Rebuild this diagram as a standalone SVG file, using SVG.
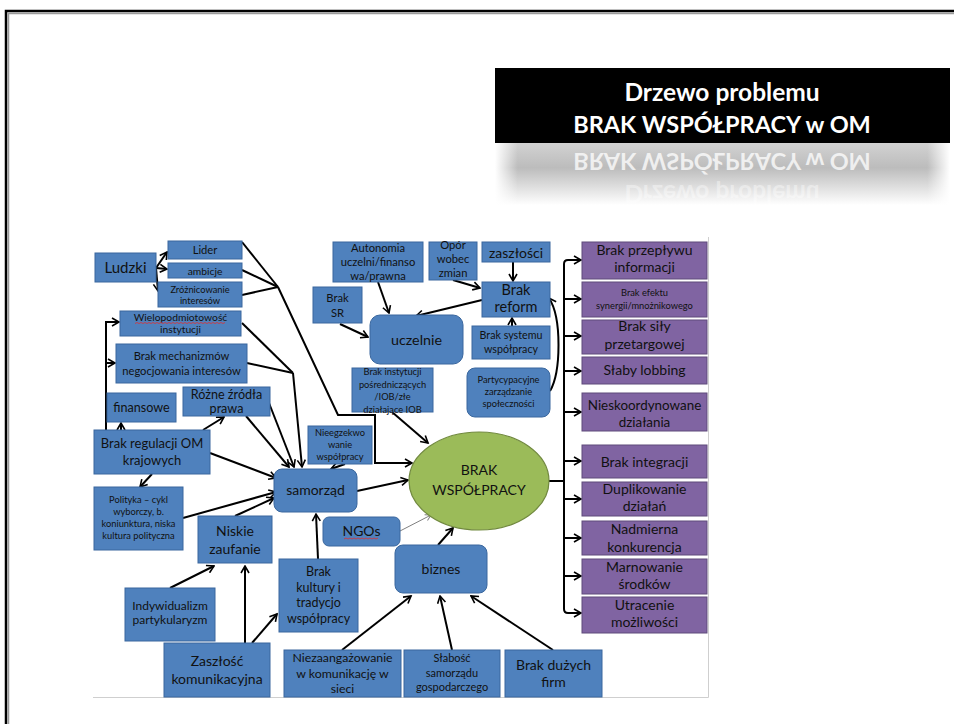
<svg xmlns="http://www.w3.org/2000/svg" width="954" height="724" viewBox="0 0 954 724">
<defs>
<style>
.b{fill:#4F81BD;stroke:#3A679E;stroke-width:1}
.p{fill:#8064A2;stroke:#5F4A7B;stroke-width:1}
.e{fill:#9BBB59;stroke:#71893F;stroke-width:1.2}
.t{font-family:Lato,"Open Sans","Liberation Sans",sans-serif;text-anchor:middle;fill:#111}
.c{fill:none;stroke:#000;stroke-width:2;marker-end:url(#a)}
.n{fill:none;stroke:#000;stroke-width:2}
.g{fill:none;stroke:#808080;stroke-width:1;marker-end:url(#ag)}
.sq{fill:none;stroke:#E03030;stroke-width:0.8}
</style>
<marker id="a" viewBox="0 0 10 10" refX="8.5" refY="5" markerWidth="5" markerHeight="5" orient="auto" markerUnits="strokeWidth">
<path d="M1.5,1 L8.5,5 L1.5,9" fill="none" stroke="#000" stroke-width="1.6"/>
</marker>
<marker id="ag" viewBox="0 0 10 10" refX="8.5" refY="5" markerWidth="8" markerHeight="8" orient="auto" markerUnits="strokeWidth">
<path d="M1.5,1 L8.5,5 L1.5,9" fill="none" stroke="#808080" stroke-width="1.2"/>
</marker>
<linearGradient id="refl" x1="0" y1="0" x2="0" y2="1">
<stop offset="0" stop-color="#d2d2d2"/>
<stop offset="0.4" stop-color="#bcbcbc"/>
<stop offset="1" stop-color="#ffffff"/>
</linearGradient>
<linearGradient id="reflh" x1="0" y1="0" x2="1" y2="0">
<stop offset="0" stop-color="#fff" stop-opacity="1"/>
<stop offset="0.05" stop-color="#fff" stop-opacity="0"/>
<stop offset="0.95" stop-color="#fff" stop-opacity="0"/>
<stop offset="1" stop-color="#fff" stop-opacity="1"/>
</linearGradient>
</defs>
<rect x="0" y="0" width="954" height="724" fill="#fff"/>

<g id="frame">
<path d="M8.5,724 V13.5 H954" fill="none" stroke="#9a9a9a" stroke-width="1.5"/>
<path d="M6,724 V11 H954" fill="none" stroke="#000" stroke-width="2.5"/>
<path d="M93,697.5 H708.5 V237" fill="none" stroke="#cfcfcf" stroke-width="1"/>
</g>

<g id="title">
<rect x="495" y="68" width="455" height="75" fill="#000"/>
<text class="t" x="722" y="101" style="font-size:24.5px;font-weight:bold;fill:#fff">Drzewo problemu</text>
<text class="t" x="722" y="133" style="font-size:23.5px;font-weight:bold;fill:#fff">BRAK WSPÓŁPRACY w OM</text>
<rect x="495" y="143" width="455" height="62" fill="url(#refl)"/>
<g transform="translate(0,286) scale(1,-1)">
<text class="t" x="722" y="133" style="font-size:23.5px;font-weight:bold;fill:#fff;fill-opacity:0.75">BRAK WSPÓŁPRACY w OM</text>
<text class="t" x="722" y="101" style="font-size:24.5px;font-weight:bold;fill:#fff;fill-opacity:0.4">Drzewo problemu</text>
</g>
<rect x="495" y="143" width="455" height="62" fill="url(#reflh)"/>
</g>

<g id="connectors">
<path class="c" d="M156,268 L167,252"/>
<path class="c" d="M156,268 L167,269"/>
<path class="c" d="M156,268 L158,291"/>
<path class="n" d="M242,242 L278,287"/>
<path class="n" d="M242,270 L278,287"/>
<path class="n" d="M242,295 L278,287"/>
<path class="c" d="M278,287 L338,415 L375,415 L375,463 L412,463"/>
<path class="n" d="M242,323 L293,373"/>
<path class="n" d="M247,363 L293,373"/>
<path class="c" d="M293,373 L302,467"/>
<path class="c" d="M246,416 L289,467"/>
<path class="c" d="M269,403 L294,467"/>
<path class="c" d="M106,430 V322 H119"/>
<path class="c" d="M106,363 H115"/>
<path class="c" d="M121,431 V423"/>
<path class="c" d="M203,430 L224,417"/>
<path class="c" d="M210,453 L276,478"/>
<path class="c" d="M152,474 L140,487"/>
<path class="c" d="M183,518 L276,492"/>
<path class="c" d="M235,516 L274,498"/>
<path class="c" d="M345,464 L331,469"/>
<path class="c" d="M357,491 L408,480"/>
<path class="g" d="M400,531 L431,515"/>
<path class="c" d="M438,545 L453,528"/>
<path class="c" d="M318,559 L316,514"/>
<path class="c" d="M170,588 L214,566"/>
<path class="c" d="M245,643 V566"/>
<path class="c" d="M252,643 L277,614"/>
<path class="c" d="M342,650 L411,596"/>
<path class="c" d="M452,650 L440,596"/>
<path class="c" d="M553,650 L471,596"/>
<path class="c" d="M378,282 L389,313"/>
<path class="c" d="M340,324 L368,337"/>
<path class="c" d="M482,300 L416,316"/>
<path class="c" d="M453,280 L480,288"/>
<path class="c" d="M513,262 V281"/>
<path class="c" d="M512,326 V318"/>
<path class="c" d="M550,391 C561,372 562,318 549,298"/>
<path class="c" d="M392,412 L428,443"/>
<path class="n" d="M549,481 H564"/>
<path class="n" d="M564,264 V609"/>
<path class="c" d="M564,264 Q564,260 568,260 H581"/>
<path class="c" d="M564,299 H581"/>
<path class="c" d="M564,336 H581"/>
<path class="c" d="M564,371 H581"/>
<path class="c" d="M564,412 H581"/>
<path class="c" d="M564,461 H581"/>
<path class="c" d="M564,499 H581"/>
<path class="c" d="M564,538 H581"/>
<path class="c" d="M564,576 H581"/>
<path class="c" d="M564,609 Q564,613 568,613 H581"/>
</g>

<g id="n-ludzki"><rect class="b" x="95" y="253" width="61" height="29"/><text class="t" x="125.5" y="273" style="font-size:15px">Ludzki</text></g>
<g id="n-lider"><rect class="b" x="168" y="241" width="74" height="18"/><text class="t" x="205" y="254" style="font-size:11.2px">Lider</text></g>
<g id="n-ambicje"><rect class="b" x="168" y="263" width="74" height="15"/><text class="t" x="205" y="274.5" style="font-size:10.3px">ambicje</text></g>
<g id="n-zroznicowanie"><rect class="b" x="158" y="282" width="84" height="25"/><text class="t" x="200" y="292.5" style="font-size:9.3px"><tspan x="200">Zróżnicowanie</tspan><tspan x="200" dy="11">interesów</tspan></text></g>
<g id="n-wielopodmiotowosc"><rect class="b" x="120" y="311" width="121" height="25"/><text class="t" x="180.5" y="321" style="font-size:10.3px"><tspan x="180.5">Wielopodmiotowość</tspan><tspan x="180.5" dy="12">instytucji</tspan></text><path class="sq" d="M135,323.5 l2,-1 l2,1 l2,-1 l2,1 l2,-1 l2,1 l2,-1 l2,1 l2,-1 l2,1 l2,-1 l2,1 l2,-1 l2,1 l2,-1 l2,1 l2,-1 l2,1 l2,-1 l2,1 l2,-1 l2,1 l2,-1 l2,1 l2,-1 l2,1 l2,-1 l2,1 l2,-1 l2,1 l2,-1 l2,1 l2,-1 l2,1 l2,-1 l2,1 l2,-1 l2,1 l2,-1 l2,1 l2,-1 l2,1 l2,-1 l2,1 l2,-1"/></g>
<g id="n-mechanizmy"><rect class="b" x="116" y="344" width="131" height="39"/><text class="t" x="181.5" y="360" style="font-size:11.2px"><tspan x="181.5">Brak mechanizmów</tspan><tspan x="181.5" dy="15">negocjowania interesów</tspan></text></g>
<g id="n-finansowe"><rect class="b" x="107" y="393" width="69" height="29"/><text class="t" x="141.5" y="412" style="font-size:12.6px">finansowe</text></g>
<g id="n-zrodla"><rect class="b" x="183" y="387" width="87" height="29"/><text class="t" x="226.5" y="399" style="font-size:12.6px"><tspan x="226.5">Różne źródła</tspan><tspan x="226.5" dy="14">prawa</tspan></text></g>
<g id="n-regulacja"><rect class="b" x="94" y="430" width="116" height="44"/><text class="t" x="152" y="448" style="font-size:13px"><tspan x="152">Brak regulacji OM</tspan><tspan x="152" dy="17">krajowych</tspan></text></g>
<g id="n-polityka"><rect class="b" x="94" y="487" width="89" height="63"/><text class="t" x="138.5" y="503" style="font-size:9.3px"><tspan x="138.5">Polityka – cykl</tspan><tspan x="138.5" dy="12">wyborczy,  b.</tspan><tspan x="138.5" dy="12">koniunktura, niska</tspan><tspan x="138.5" dy="12">kultura polityczna</tspan></text></g>
<g id="n-zaufanie"><rect class="b" x="198" y="516" width="74" height="47"/><text class="t" x="235" y="535.5" style="font-size:14px"><tspan x="235">Niskie</tspan><tspan x="235" dy="18">zaufanie</tspan></text></g>
<g id="n-samorzad"><rect class="b" x="274" y="469" width="83" height="43" rx="8"/><text class="t" x="315.5" y="495" style="font-size:14px">samorząd</text></g>
<g id="n-nieegzekwowanie"><rect class="b" x="308" y="426" width="64" height="38"/><text class="t" x="340" y="436" style="font-size:9.3px"><tspan x="340">Nieegzekwo</tspan><tspan x="340" dy="12">wanie</tspan><tspan x="340" dy="12">współpracy</tspan></text></g>
<g id="n-ngos"><rect class="b" x="323" y="517" width="77" height="29" rx="6"/><text class="t" x="361.5" y="536" style="font-size:14px">NGOs</text><path class="sq" d="M344,539 l2,-1 l2,1 l2,-1 l2,1 l2,-1 l2,1 l2,-1 l2,1 l2,-1 l2,1 l2,-1 l2,1 l2,-1 l2,1 l2,-1 l2,1 l2,-1"/></g>
<g id="n-biznes"><rect class="b" x="395" y="545" width="92" height="48" rx="8"/><text class="t" x="441" y="574" style="font-size:14px">biznes</text></g>
<g id="n-brak-wspolpracy"><ellipse class="e" cx="479" cy="481" rx="70" ry="49"/><text class="t" x="479" y="475" style="font-size:14px"><tspan x="479">BRAK</tspan><tspan x="479" dy="20">WSPÓŁPRACY</tspan></text></g>
<g id="n-kultura"><rect class="b" x="279" y="559" width="79" height="73"/><text class="t" x="318.5" y="576" style="font-size:12.5px"><tspan x="318.5">Brak</tspan><tspan x="318.5" dy="15.7">kultury i</tspan><tspan x="318.5" dy="15.7">tradycjo</tspan><tspan x="318.5" dy="15.7">współpracy</tspan></text></g>
<g id="n-indywidualizm"><rect class="b" x="125" y="588" width="90" height="53"/><text class="t" x="170" y="609.5" style="font-size:12px"><tspan x="170">Indywidualizm</tspan><tspan x="170" dy="14.5">partykularyzm</tspan></text></g>
<g id="n-zaszlosc-kom"><rect class="b" x="164" y="643" width="106" height="54"/><text class="t" x="217" y="666" style="font-size:14px"><tspan x="217">Zaszłość</tspan><tspan x="217" dy="18">komunikacyjna</tspan></text></g>
<g id="n-niezaangazowanie"><rect class="b" x="284" y="650" width="117" height="47"/><text class="t" x="342.5" y="662" style="font-size:12.3px"><tspan x="342.5">Niezaangażowanie</tspan><tspan x="342.5" dy="15.5">w komunikację w</tspan><tspan x="342.5" dy="15.5">sieci</tspan></text></g>
<g id="n-slabosc"><rect class="b" x="404" y="650" width="96" height="47"/><text class="t" x="452" y="662" style="font-size:11px"><tspan x="452">Słabość</tspan><tspan x="452" dy="14.5">samorządu</tspan><tspan x="452" dy="14.5">gospodarczego</tspan></text></g>
<g id="n-duze-firmy"><rect class="b" x="505" y="650" width="97" height="47"/><text class="t" x="553.5" y="670" style="font-size:14px"><tspan x="553.5">Brak dużych</tspan><tspan x="553.5" dy="17">firm</tspan></text></g>
<g id="n-autonomia"><rect class="b" x="333" y="242" width="90" height="40"/><text class="t" x="378" y="252" style="font-size:11.2px"><tspan x="378">Autonomia</tspan><tspan x="378" dy="14">uczelni/finanso</tspan><tspan x="378" dy="14">wa/prawna</tspan></text></g>
<g id="n-opor"><rect class="b" x="429" y="242" width="48" height="38"/><text class="t" x="453" y="249" style="font-size:11.2px"><tspan x="453">Opór</tspan><tspan x="453" dy="14">wobec</tspan><tspan x="453" dy="14">zmian</tspan></text></g>
<g id="n-zaszlosci"><rect class="b" x="482" y="242" width="68" height="20"/><text class="t" x="516" y="257.5" style="font-size:14px">zaszłości</text></g>
<g id="n-brak-sr"><rect class="b" x="313" y="287" width="49" height="36"/><text class="t" x="337.5" y="302" style="font-size:11.2px"><tspan x="337.5">Brak</tspan><tspan x="337.5" dy="15">SR</tspan></text></g>
<g id="n-brak-reform"><rect class="b" x="482" y="282" width="68" height="35"/><text class="t" x="516" y="295" style="font-size:14.5px"><tspan x="516">Brak</tspan><tspan x="516" dy="16.5">reform</tspan></text></g>
<g id="n-uczelnie"><rect class="b" x="370" y="315" width="93" height="49" rx="10"/><text class="t" x="416.5" y="345" style="font-size:14.3px">uczelnie</text></g>
<g id="n-system"><rect class="b" x="472" y="326" width="78" height="33"/><text class="t" x="511" y="339" style="font-size:10.7px"><tspan x="511">Brak systemu</tspan><tspan x="511" dy="14">współpracy</tspan></text></g>
<g id="n-partycypacyjne"><rect class="b" x="467" y="368" width="83" height="49" rx="8"/><text class="t" x="508.5" y="383" style="font-size:9.3px"><tspan x="508.5">Partycypacyjne</tspan><tspan x="508.5" dy="12">zarządzanie</tspan><tspan x="508.5" dy="12">społeczności</tspan></text></g>
<g id="n-instytucje"><rect class="b" x="352" y="368" width="81" height="44"/><text class="t" x="392.5" y="375" style="font-size:9.3px"><tspan x="392.5">Brak instytucji</tspan><tspan x="392.5" dy="12.5">pośredniczących</tspan><tspan x="392.5" dy="12.5">/IOB/złe</tspan><tspan x="392.5" dy="12.5">działające IOB</tspan></text></g>

<g id="e-przeplyw"><rect class="p" x="582" y="242" width="125" height="37"/><text class="t" x="644.5" y="255" style="font-size:14px"><tspan x="644.5">Brak przepływu</tspan><tspan x="644.5" dy="17">informacji</tspan></text></g>
<g id="e-synergia"><rect class="p" x="582" y="282" width="125" height="35"/><text class="t" x="644.5" y="296" style="font-size:9.3px"><tspan x="644.5">Brak efektu</tspan><tspan x="644.5" dy="13">synergii/mnożnikowego</tspan></text></g>
<g id="e-sila"><rect class="p" x="582" y="320" width="125" height="34"/><text class="t" x="644.5" y="331" style="font-size:14px"><tspan x="644.5">Brak siły</tspan><tspan x="644.5" dy="17.5">przetargowej</tspan></text></g>
<g id="e-lobbing"><rect class="p" x="582" y="357" width="125" height="27"/><text class="t" x="644.5" y="375" style="font-size:14px">Słaby lobbing</text></g>
<g id="e-nieskoordynowane"><rect class="p" x="582" y="393" width="125" height="38"/><text class="t" x="644.5" y="410" style="font-size:13.4px"><tspan x="644.5">Nieskoordynowane</tspan><tspan x="644.5" dy="17">działania</tspan></text></g>
<g id="e-integracja"><rect class="p" x="582" y="445" width="125" height="33"/><text class="t" x="644.5" y="467" style="font-size:14px">Brak integracji</text></g>
<g id="e-duplikowanie"><rect class="p" x="582" y="482" width="125" height="34"/><text class="t" x="644.5" y="494" style="font-size:14px"><tspan x="644.5">Duplikowanie</tspan><tspan x="644.5" dy="17">działań</tspan></text></g>
<g id="e-konkurencja"><rect class="p" x="582" y="521" width="125" height="34"/><text class="t" x="644.5" y="534" style="font-size:14px"><tspan x="644.5">Nadmierna</tspan><tspan x="644.5" dy="17.5">konkurencja</tspan></text></g>
<g id="e-marnowanie"><rect class="p" x="582" y="559" width="125" height="35"/><text class="t" x="644.5" y="572" style="font-size:14px"><tspan x="644.5">Marnowanie</tspan><tspan x="644.5" dy="16.5">środków</tspan></text></g>
<g id="e-utracenie"><rect class="p" x="582" y="597" width="125" height="36"/><text class="t" x="644.5" y="610" style="font-size:14px"><tspan x="644.5">Utracenie</tspan><tspan x="644.5" dy="17">możliwości</tspan></text></g>
</svg>
